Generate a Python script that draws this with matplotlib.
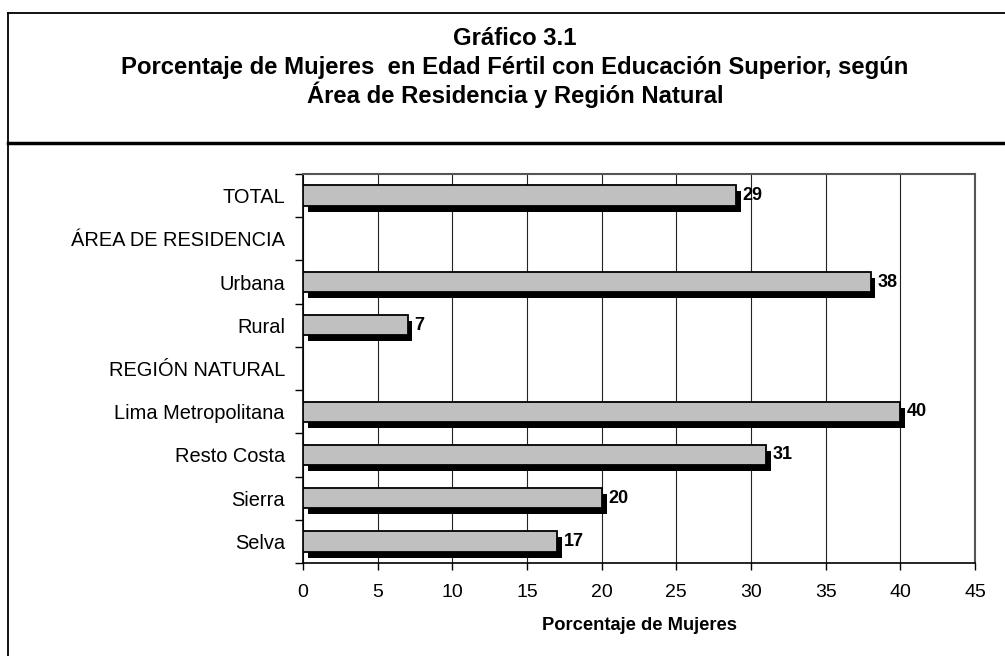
import numpy as np
import matplotlib.pyplot as plt
from matplotlib.lines import Line2D

plt.rcParams['font.family'] = ['Liberation Sans', 'DejaVu Sans']

categories = ['TOTAL', 'ÁREA DE RESIDENCIA', 'Urbana', 'Rural', 'REGIÓN NATURAL',
              'Lima Metropolitana', 'Resto Costa', 'Sierra', 'Selva']
values = [29, None, 38, 7, None, 40, 31, 20, 17]
xticks = [0, 5, 10, 15, 20, 25, 30, 35, 40, 45]

fig = plt.figure(figsize=(10.05, 6.56), dpi=100)
ax = fig.add_axes([0.3015, 0.1418, 0.6687, 0.593])

ypos = np.arange(len(categories))
bar_h = 0.47
dx, dy = 0.33, 0.14
for y, v in zip(ypos, values):
    if v is None:
        continue
    # shadow
    ax.barh(y + dy, v, left=dx, height=bar_h, color='black', zorder=2)
    ax.barh(y, v, height=bar_h, color='#c0c0c0', edgecolor='black', linewidth=1.3, zorder=3)
    ax.text(v + dx + 0.12, y, str(v), va='center', ha='left', fontsize=13,
            fontweight='bold', zorder=4)

ax.set_xlim(0, 45)
ax.set_ylim(len(categories) - 0.5, -0.5)
ax.set_xticks(xticks)
ax.set_xticklabels([str(t) for t in xticks], fontsize=14)
ax.set_yticks(ypos)
ax.set_yticklabels(categories, fontsize=14.4)
ax.set_yticks(np.arange(-0.5, len(categories), 1), minor=True)
ax.tick_params(axis='y', which='major', length=0, pad=13)
ax.tick_params(axis='y', which='minor', length=6, width=1, direction='out')
ax.tick_params(axis='x', length=5, width=1, direction='out', pad=10)
ax.grid(axis='x', color='#222222', linewidth=0.8, zorder=0)
ax.set_axisbelow(True)
for s in ['top', 'right']:
    ax.spines[s].set_color('#555555')
    ax.spines[s].set_linewidth(1.5)
for s in ['left', 'bottom']:
    ax.spines[s].set_color('black')
    ax.spines[s].set_linewidth(1.2)
ax.set_xlabel('Porcentaje de Mujeres', fontsize=13.2, fontweight='bold', labelpad=12)

# frame and title box
W, H = 1005, 656
fig.add_artist(Line2D([8 / W, 8 / W], [0, 1 - 13 / H], color='black', linewidth=1.3,
                      transform=fig.transFigure))
fig.add_artist(Line2D([8 / W, 1], [1 - 13 / H, 1 - 13 / H], color='black', linewidth=1.3,
                      transform=fig.transFigure))
fig.add_artist(Line2D([8 / W, 1], [1 - 143 / H, 1 - 143 / H], color='black', linewidth=2.5,
                      transform=fig.transFigure))

title_lines = ['Gráfico 3.1',
               'Porcentaje de Mujeres  en Edad Fértil con Educación Superior, según',
               'Área de Residencia y Región Natural']
for i, t in enumerate(title_lines):
    fig.text(515 / W, 1 - (45 + 29 * i) / H, t, ha='center', va='baseline',
             fontsize=17.2, fontweight='bold')

fig.savefig('out.png', dpi=100)
